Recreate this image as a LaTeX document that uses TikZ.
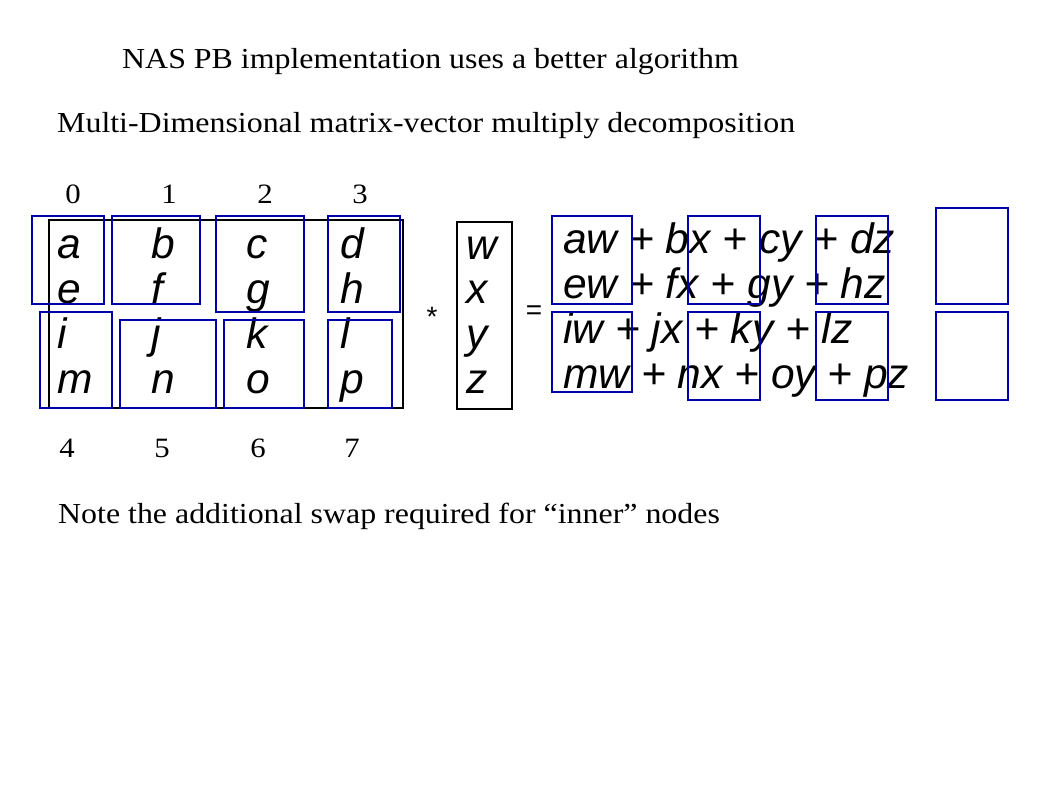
\documentclass[tikz,border=0pt]{standalone}
\usepackage{fontspec}
\setmainfont{Liberation Serif}[FakeStretch=1.1]
\newfontfamily\arialfont{Liberation Sans}
\usepackage{xcolor}
\usetikzlibrary{positioning}
\definecolor{cellblue}{RGB}{0,0,168}
\tikzset{
  cell/.style={draw=cellblue, line width=1.2pt},
  frame/.style={draw=black, line width=1.2pt},
  serif/.style={font=\fontsize{29}{34}\selectfont, inner sep=0pt, anchor=base west},
  digit/.style={font=\fontsize{28}{32}\selectfont, inner sep=0pt, anchor=base},
  letter/.style={font=\arialfont\itshape\fontsize{42.5}{46}\selectfont, inner sep=0pt, anchor=base west},
  op/.style={font=\arialfont\fontsize{28}{32}\selectfont, inner sep=0pt},
}

\begin{document}
\begin{tikzpicture}[x=1pt, y=-1pt]
\useasboundingbox (0,0) rectangle (1058,793);
\node[serif] (title) at (122,68) {NAS PB implementation uses a better algorithm};
\node[serif] (subtitle) at (57,132) {Multi-Dimensional matrix-vector multiply decomposition};
\node[serif] (note) at (58,523) {Note the additional swap required for “inner” nodes};
\foreach \d/\x in {0/73, 1/169, 2/265, 3/360}
  \node[digit] (top\d) at (\x,203) {\d};
\foreach \d/\x in {4/67, 5/162, 6/258, 7/352}
  \node[digit] (bot\d) at (\x,457) {\d};
\draw[frame] (49,220) rectangle (403,408);
\foreach \l/\x/\y in {a/57/258, b/151/258, c/246/258, d/340/258,
                      e/57/303, f/151/303, g/246/303, h/340/303,
                      i/57/348, j/151/348, k/246/348, l/340/348,
                      m/57/393, n/151/393, o/246/393, p/340/393}
  \node[letter] (m\l) at (\x,\y) {\l};
\foreach \ax/\ay/\bx/\by in {32/216/104/304, 112/216/200/304, 216/216/304/312, 328/216/400/312,
                             40/312/112/408, 120/320/216/408, 224/320/304/408, 328/320/392/408}
  \draw[cell] (\ax,\ay) rectangle (\bx,\by);
\node[op] (times) at (432,317) {*};
\draw[frame] (457,222) rectangle (512,409);
\foreach \l/\y in {w/259, x/303, y/348, z/393}
  \node[letter] (v\l) at (466,\y) {\l};
\node[op] (equals) at (534,313) {=};
\node[letter] (row1) at (563,253) {aw + bx + cy + dz};
\node[letter] (row2) at (563,298) {ew + fx + gy + hz};
\node[letter] (row3) at (563,343) {iw + jx + ky + lz};
\node[letter] (row4) at (563,388) {mw + nx + oy + pz};
\foreach \ax/\ay/\bx/\by in {552/216/632/304, 688/216/760/304, 816/216/888/304, 936/208/1008/304,
                             552/312/632/392, 688/312/760/400, 816/312/888/400, 936/312/1008/400}
  \draw[cell] (\ax,\ay) rectangle (\bx,\by);
\end{tikzpicture}
\end{document}
